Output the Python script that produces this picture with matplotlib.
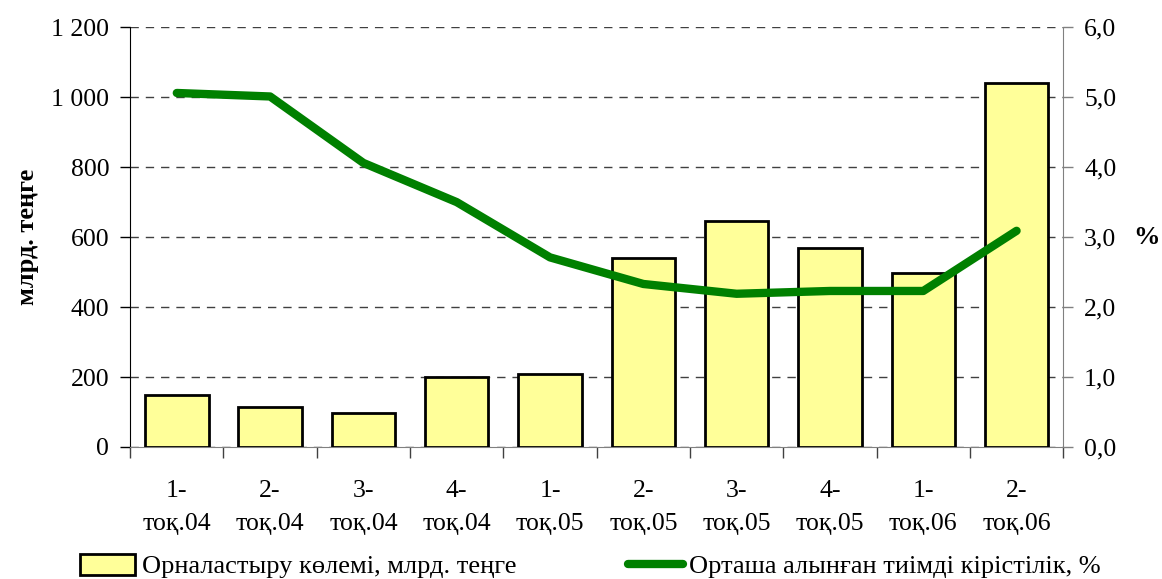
import matplotlib.pyplot as plt
from matplotlib.ticker import FixedLocator, FuncFormatter

plt.rcParams['font.family'] = ['Liberation Serif', 'DejaVu Serif']

# Data
quarters = ['1-\nтоқ.04', '2-\nтоқ.04', '3-\nтоқ.04', '4-\nтоқ.04', '1-\nтоқ.05',
            '2-\nтоқ.05', '3-\nтоқ.05', '4-\nтоқ.05', '1-\nтоқ.06', '2-\nтоқ.06']
volume = [148, 114, 98, 200, 208, 540, 646, 569, 497, 1040]
yield_pct = [5.06, 5.01, 4.06, 3.50, 2.71, 2.33, 2.19, 2.23, 2.23, 3.09]

bar_label = 'Орналастыру көлемі, млрд. теңге'
line_label = 'Орташа алынған тиімді кірістілік, %'

fig = plt.figure(figsize=(11.62, 5.79), dpi=100)
ax = fig.add_axes([0.112, 0.228, 0.803, 0.725])
ax2 = ax.twinx()

x = list(range(len(quarters)))
bars = ax.bar(x, volume, width=0.68, color='#ffff99', edgecolor='black',
              linewidth=2, zorder=3, label=bar_label)
line, = ax2.plot(x, yield_pct, color='#008000', linewidth=6,
                 solid_capstyle='round', zorder=4, label=line_label)

ax.set_xlim(-0.5, len(quarters) - 0.5)
ax.set_ylim(0, 1200)
ax2.set_ylim(0, 6)
ax.set_yticks(range(0, 1201, 200))
ax2.set_yticks([0, 1, 2, 3, 4, 5, 6])
ax.yaxis.set_major_formatter(FuncFormatter(lambda v, p: f'{int(v):,}'.replace(',', ' ')))
ax2.yaxis.set_major_formatter(FuncFormatter(lambda v, p: f'{v:.1f}'.replace('.', ',')))

ax.grid(axis='y', linestyle=(0, (6, 5)), color='#404040', linewidth=1, zorder=0)
ax.set_axisbelow(True)
ax2.set_zorder(ax.get_zorder() + 1)
ax2.patch.set_visible(False)

# category labels between boundary ticks
ax.set_xticks(x)
ax.set_xticklabels(quarters, fontsize=18.5, linespacing=1.6)
ax.tick_params(axis='x', length=0, pad=24)
ax.xaxis.set_minor_locator(FixedLocator([i - 0.5 for i in range(len(quarters) + 1)]))
ax.tick_params(axis='x', which='minor', length=8, color='#404040', width=1)

ax.tick_params(axis='y', labelsize=18.5, length=7, direction='out', width=1, pad=8)
ax2.tick_params(axis='y', labelsize=18.5, length=7, direction='out', color='#808080',
                width=1, pad=8)

for sp in ['top']:
    ax.spines[sp].set_visible(False)
    ax2.spines[sp].set_visible(False)
ax2.spines['left'].set_visible(False)
ax2.spines['bottom'].set_visible(False)
ax.spines['right'].set_visible(False)
ax2.spines['right'].set_color('#808080')
ax.spines['bottom'].set_color('#808080')
ax.spines['left'].set_color('black')

ax.set_ylabel('млрд. теңге', fontsize=19, fontweight='bold', labelpad=9)
ax2.set_ylabel('%', fontsize=19, fontweight='bold', rotation=0, labelpad=22, va='center')

fig.legend(handles=[bars], loc='lower left', bbox_to_anchor=(0.048, -0.04),
           frameon=False, fontsize=19, handlelength=2.1, handleheight=0.85,
           handletextpad=0.25)
fig.legend(handles=[line], loc='lower left', bbox_to_anchor=(0.52, -0.04),
           frameon=False, fontsize=19, handlelength=2.1, handletextpad=0.2)

fig.savefig('out.png', dpi=100)
